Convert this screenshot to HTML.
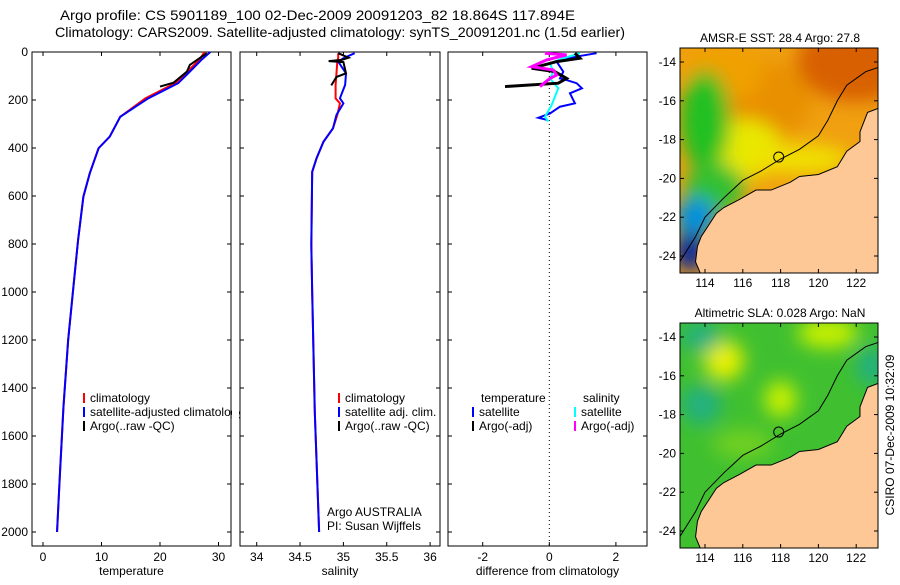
<!DOCTYPE html>
<html><head><meta charset="utf-8"><style>
body{margin:0;background:#fff;font-family:"Liberation Sans",sans-serif}
svg text{font-family:"Liberation Sans",sans-serif;font-size:12px;fill:#000}
</style></head><body>
<svg id="c" width="900" height="580" xmlns="http://www.w3.org/2000/svg">
<defs>
<filter id="bl" x="-50%" y="-50%" width="200%" height="200%"><feGaussianBlur stdDeviation="9"/></filter>
<clipPath id="m1"><rect x="680" y="48" width="198" height="225"/></clipPath>
<clipPath id="m2"><rect x="680" y="323" width="198" height="225"/></clipPath>
</defs>
<text x="60" y="20" textLength="515" lengthAdjust="spacingAndGlyphs" style="font-size:14px">Argo profile: CS 5901189_100 02-Dec-2009 20091203_82 18.864S 117.894E</text>
<text x="55" y="37" textLength="570" lengthAdjust="spacingAndGlyphs" style="font-size:14px">Climatology: CARS2009. Satellite-adjusted climatology: synTS_20091201.nc (1.5d earlier)</text>
<g id="plots"></g>
<text x="780" y="42" text-anchor="middle">AMSR-E SST: 28.4 Argo: 27.8</text>
<text x="780" y="317" text-anchor="middle">Altimetric SLA: 0.028 Argo: NaN</text>
<text transform="translate(894,435) rotate(-90)" text-anchor="middle">CSIRO 07-Dec-2009 10:32:09</text>
</svg>
<script>
const NS='http://www.w3.org/2000/svg';
const G=document.getElementById('plots');
function mk(t,a,p){const e=document.createElementNS(NS,t);for(const k in a)e.setAttribute(k,a[k]);(p||G).appendChild(e);return e;}
// ---- data ----
const depthTicks=[0,200,400,600,800,1000,1200,1400,1600,1800,2000];
const tempTicks=[0,10,20,30], salTicks=[34,34.5,35,35.5,36], diffTicks=[-2,0,2];
const tDepth=[0,30,89,130,193,270,353,401,505,603,783,978,1200,1478,1755,2000];
const climTemp=[27.6,26.8,24.4,22.6,17.5,13.2,11.4,9.5,8.0,6.9,6.0,5.2,4.3,3.5,2.9,2.4];
const satTemp=[28.6,27.2,24.8,23.1,18.0,13.2,11.4,9.5,8.0,6.9,6.0,5.2,4.3,3.5,2.9,2.4];
const argoTDepth=[5,54,82,128,144];
const argoTemp=[28.0,25.1,24.6,22.3,20.0];
const sDepth=[5,26,40,89,137,193,214,262,318,374,443,499,804,1000,1500,2000];
const satSal=[35.13,35.0,34.94,35.03,35.02,34.96,35.0,34.92,34.88,34.77,34.69,34.64,34.63,34.64,34.67,34.72];
const climSal=[34.94,34.94,34.93,34.92,34.91,34.91,34.96,34.93,34.88,34.77,34.69,34.64,34.63,34.64,34.67,34.72];
const argoSDepth=[5,24,33,38,42,89,104,139];
const argoSal=[34.94,35.06,34.98,34.83,35.0,35.03,34.92,34.86];
const dTDepth=[5,19,40,82,110,117,130,151,172,214,228,256,274,283];
const dTempSat=[1.42,0.82,0.22,0.42,0.32,0.52,0.82,0.98,0.62,0.77,0.32,0.02,-0.33,-0.06];
const dSDepth=[5,26,47,82,110,151,221,270,290];
const dSalSat=[0.92,0.42,0.02,0.12,0.02,0.27,0.07,-0.13,-0.03];
const aTDepth=[5,26,40,68,82,110,130,144];
const dTempArgo=[0.77,0.92,0.22,-0.53,0.17,0.52,0.27,-1.33];
const aSDepth=[5,12,33,61,75,96,110,144];
const dSalArgo=[-0.13,0.52,-0.08,-0.53,0.12,0.22,0.02,-0.28];
// ---- panels ----
const yD=d=>52+d*0.24;
function panel(x0,x1,ticks,fx,label,name,showY){
  const g=mk('g',{});
  mk('rect',{x:x0,y:52,width:x1-x0,height:494,fill:'#fff',stroke:'#000'},g);
  ticks.forEach(t=>{const x=fx(t);mk('line',{x1:x,x2:x,y1:52,y2:56,stroke:'#000'},g);mk('line',{x1:x,x2:x,y1:546,y2:542,stroke:'#000'},g);
    const tx=mk('text',{x:x,y:561,'text-anchor':'middle'},g);tx.textContent=t;});
  depthTicks.forEach(d=>{const y=yD(d);mk('line',{x1:x0,x2:x0+4,y1:y,y2:y,stroke:'#000'},g);mk('line',{x1:x1,x2:x1-4,y1:y,y2:y,stroke:'#000'},g);
    if(showY){const tx=mk('text',{x:x0-4,y:y+4,'text-anchor':'end'},g);tx.textContent=d;}});
  const l=mk('text',{x:(x0+x1)/2,y:575,'text-anchor':'middle'},g);l.textContent=label;
  return g;
}
function line(g,xs,ds,fx,col,w,name){const p=mk('polyline',{points:xs.map((v,i)=>fx(v)+','+yD(ds[i])).join(' '),fill:'none',stroke:col,'stroke-width':w},g);
  }
const fT=t=>43+t*5.85, fS=s=>256.7+(s-34)*86.7, fD=v=>549.3+v*33.3;
const g1=panel(32,231,tempTicks,fT,'temperature','temperature-panel',true);
line(g1,climTemp,tDepth,fT,'#f00',2,'climatology-temp-line');
line(g1,satTemp,tDepth,fT,'#00f',2,'satellite-temp-line');
line(g1,argoTemp,argoTDepth,fT,'#000',2,'argo-temp-line');
const g2=panel(240,440,salTicks,fS,'salinity','salinity-panel',false);
line(g2,climSal,sDepth,fS,'#f00',2,'climatology-sal-line');
line(g2,satSal,sDepth,fS,'#00f',2,'satellite-sal-line');
line(g2,argoSal,argoSDepth,fS,'#000',2,'argo-sal-line');
const g3=panel(448,647,diffTicks,fD,'difference from climatology','difference-panel',false);
mk('line',{x1:fD(0),x2:fD(0),y1:52,y2:546,stroke:'#000','stroke-dasharray':'1,3'},g3);
line(g3,dTempSat,dTDepth,fD,'#00f',2,'sat-temp-diff-line');
line(g3,dSalSat,dSDepth,fD,'#0ff',2,'sat-sal-diff-line');
line(g3,dTempArgo,aTDepth,fD,'#000',3,'argo-temp-diff-line');
line(g3,dSalArgo,aSDepth,fD,'#f0f',3,'argo-sal-diff-line');
function leg(g,x,y,col,txt,name){mk('line',{x1:x,x2:x,y1:y-9,y2:y+1,stroke:col,'stroke-width':2},g);
  const t=mk('text',{x:x+6,y:y},g);t.textContent=txt;}
leg(g1,84,402,'#f00','climatology','legend-climatology');
leg(g1,84,416,'#00f','satellite-adjusted climatology','legend-satellite');
leg(g1,84,430,'#000','Argo(..raw -QC)','legend-argo');
mk('rect',{x:232,y:405,width:7,height:14,fill:'#fff'});
leg(g2,339,402,'#f00','climatology','legend-sal-climatology');
leg(g2,339,416,'#00f','satellite adj. clim.','legend-sal-satellite');
leg(g2,339,430,'#000','Argo(..raw -QC)','legend-sal-argo');
let t=mk('text',{x:481,y:402},g3);t.textContent='temperature';
t=mk('text',{x:583,y:402},g3);t.textContent='salinity';
leg(g3,473,416,'#00f','satellite','legend-diff-temp-sat');
leg(g3,473,430,'#000','Argo(-adj)','legend-diff-temp-argo');
leg(g3,575,416,'#0ff','satellite','legend-diff-sal-sat');
leg(g3,575,430,'#f0f','Argo(-adj)','legend-diff-sal-argo');
t=mk('text',{x:327,y:516},g2);t.textContent='Argo AUSTRALIA';
t=mk('text',{x:327,y:530},g2);t.textContent='PI: Susan Wijffels';
// ---- maps ----
const land=[[123.4,-16.3],[122.6,-16.6],[122.2,-17.6],[122.2,-18.1],[121.5,-18.6],[121,-19.4],[120,-19.8],[119,-19.9],[118.5,-20.2],[117.5,-20.6],[116.7,-20.6],[115.8,-21.1],[115,-21.5],[114.6,-21.8],[114.2,-22.4],[113.8,-23],[113.6,-23.5],[113.5,-24.3],[113.8,-25],[123.4,-25]];
const shelf=[[112.6,-24.4],[113.5,-23],[114,-22],[115,-21],[116,-20.1],[117,-19.6],[118,-19],[119,-18.5],[120,-17.8],[120.5,-17],[121,-16],[121.5,-15.2],[122.5,-14.5],[123.4,-14.2]];
function map(y0,clip,blobs,base,name){
  const g=mk('g',{});
  const X=l=>705+(l-114)*18.9, Y=la=>y0+14+(-14-la)*19.4;
  const c=mk('g',{'clip-path':'url(#'+clip+')'},g);
  mk('rect',{x:680,y:y0,width:198,height:225,fill:base},c);
  const b=mk('g',{filter:'url(#bl)'},c);
  blobs.forEach(q=>mk('ellipse',{cx:X(q[0]),cy:Y(q[1]),rx:q[2],ry:q[3],fill:q[4]},b));
  mk('polygon',{points:land.map(p=>X(p[0])+','+Y(p[1])).join(' '),fill:'#fdc896',stroke:'#000','stroke-width':1},c);
  mk('polyline',{points:shelf.map(p=>X(p[0])+','+Y(p[1])).join(' '),fill:'none',stroke:'#000','stroke-width':1},c);
  mk('circle',{cx:X(117.9),cy:Y(-18.9),r:5,fill:'none',stroke:'#000'},c);
  mk('rect',{x:680,y:y0,width:198,height:225,fill:'none',stroke:'#000'},g);
  [114,116,118,120,122].forEach(l=>{const x=X(l);mk('line',{x1:x,x2:x,y1:y0,y2:y0+4,stroke:'#000'},g);mk('line',{x1:x,x2:x,y1:y0+225,y2:y0+221,stroke:'#000'},g);
    const t=mk('text',{x:x,y:y0+239,'text-anchor':'middle'},g);t.textContent=l;});
  [-14,-16,-18,-20,-22,-24].forEach(la=>{const y=Y(la);mk('line',{x1:680,x2:684,y1:y,y2:y,stroke:'#000'},g);mk('line',{x1:878,x2:874,y1:y,y2:y,stroke:'#000'},g);
    const t=mk('text',{x:676,y:y+4,'text-anchor':'end'},g);t.textContent=la;});
}
map(48,'m1',[[122,-14,60,40,'#d86000'],[117,-16,50,40,'#e89000'],[115,-14.5,40,30,'#f0a000'],[116,-18.5,40,30,'#e8e800'],[114,-17,25,50,'#20c020'],[114.5,-20.5,30,25,'#30c030'],[113.5,-22,20,20,'#0090e0'],[113.2,-23.8,15,20,'#0020a0'],[119,-19,50,15,'#f0e000']],'#f0a010','sst-map');
map(323,'m2',[[115,-15.2,20,20,'#e8f000'],[118,-17.2,16,18,'#c8f000'],[120.5,-13.8,30,15,'#c8f000'],[113.8,-17.5,20,20,'#20b080'],[113.8,-14,20,15,'#20b080'],[122.8,-15.5,15,20,'#20b080'],[116,-19.5,30,15,'#70d020']],'#40c030','sla-map');
</script>
</body></html>
